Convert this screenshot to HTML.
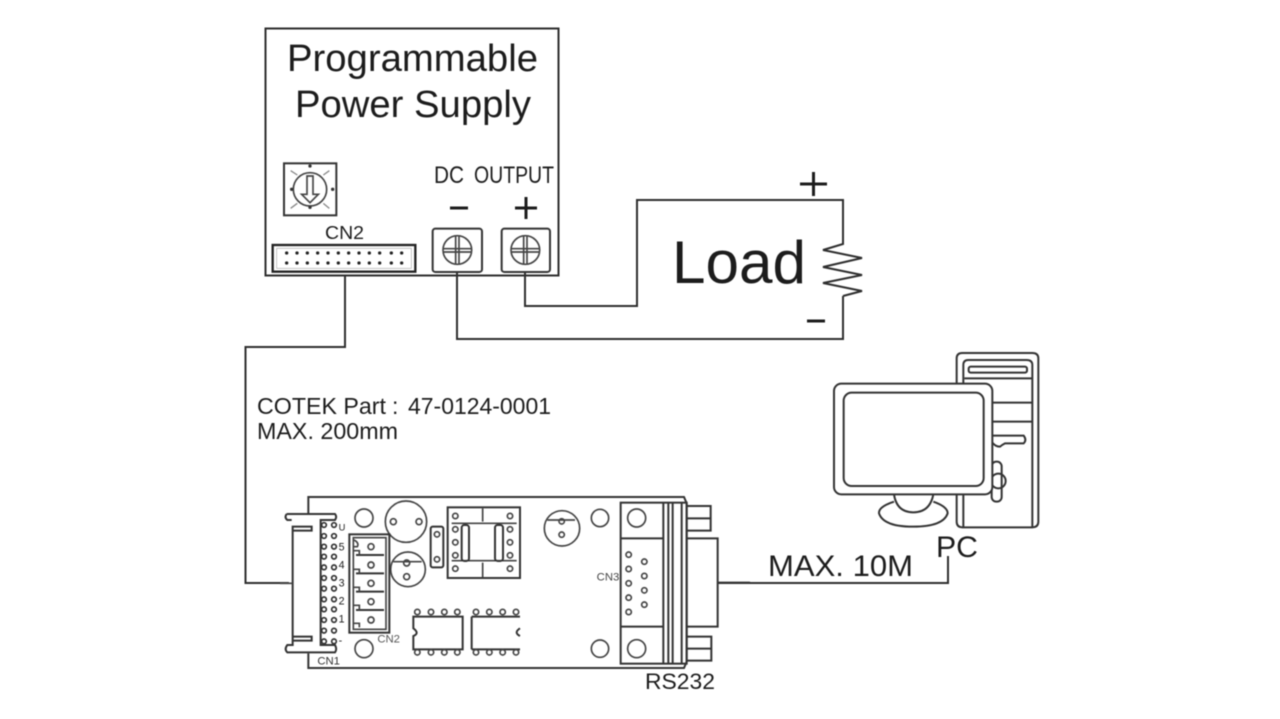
<!DOCTYPE html>
<html><head><meta charset="utf-8"><style>
html,body{margin:0;padding:0;background:#fff;width:1280px;height:719px;overflow:hidden}
svg{display:block;filter:blur(.5px)}
text{font-family:"Liberation Sans",sans-serif;fill:#1c1c1c}
.z{fill:none;stroke:#333;stroke-width:6}
.t{fill:none;stroke:#444;stroke-width:5}
</style></head><body>
<svg width="1280" height="719" viewBox="0 0 1280 719" xmlns="http://www.w3.org/2000/svg">
<g fill="none" stroke="#2e2e2e" stroke-width="2">
<rect x="265.500" y="28.500" width="293" height="247"/>
<path d="M345 276V347H245.500V583H289"/>
<path d="M457 271V339H843V296"/>
<path d="M525 271V306H637V200H843V238"/>
<path d="M843 238L843 244L823 250L862 258L823 267L862 275L823 283L862 291L843 296"/>
<path d="M718 583H948V556"/>
</g>
<text x="287" y="71" font-size="38" textLength="251" lengthAdjust="spacingAndGlyphs">Programmable</text>
<text x="295" y="117" font-size="38" textLength="236" lengthAdjust="spacingAndGlyphs">Power Supply</text>
<text x="434" y="183" font-size="24" textLength="30" lengthAdjust="spacingAndGlyphs">DC</text>
<text x="474" y="183" font-size="24" textLength="80" lengthAdjust="spacingAndGlyphs">OUTPUT</text>
<text x="325" y="239" font-size="18" textLength="39" lengthAdjust="spacingAndGlyphs">CN2</text>
<text x="672" y="283" font-size="60" textLength="134" lengthAdjust="spacingAndGlyphs">Load</text>
<text x="257" y="414" font-size="23" textLength="129" lengthAdjust="spacingAndGlyphs">COTEK Part</text>
<text x="392" y="414" font-size="23">:</text>
<text x="408" y="414" font-size="23" textLength="143" lengthAdjust="spacingAndGlyphs">47-0124-0001</text>
<text x="257" y="439" font-size="23" textLength="141" lengthAdjust="spacingAndGlyphs">MAX. 200mm</text>
<text x="768" y="576" font-size="30" textLength="145" lengthAdjust="spacingAndGlyphs">MAX. 10M</text>
<text x="936" y="557" font-size="30" textLength="42" lengthAdjust="spacingAndGlyphs">PC</text>
<text x="645" y="689" font-size="22" textLength="70" lengthAdjust="spacingAndGlyphs">RS232</text>
<g stroke="#1c1c1c" stroke-width="3" fill="none">
<path d="M450 208H468"/><path d="M515 208H537M526 197V219"/>
<path d="M800 184H827M813.500 172V196"/><path d="M807 321H825"/>
</g>
<!-- Power supply parts: zoom coords -->
<g transform="translate(260,150) scale(.33333)">
<rect class="z" x="72" y="40" width="157" height="156"/>
<circle class="t" cx="150" cy="118" r="50"/>
<path class="t" d="M141 78H159V133H175L150 158L125 133H141Z"/>
<g fill="#333"><circle cx="150" cy="48" r="5"/><circle cx="150" cy="172" r="5"/><circle cx="95" cy="118" r="5"/><circle cx="218" cy="118" r="5"/></g>
<path d="M92 62L112 75M208 62L190 75M92 175L112 160M208 175L190 160" stroke="#888" stroke-width="4"/>
<rect x="38" y="285" width="428" height="80" fill="none" stroke="#222" stroke-width="7"/>
<rect x="50" y="295" width="404" height="60" fill="none" stroke="#aaa" stroke-width="2"/>
<g fill="#222">
<circle cx="80" cy="309" r="5"/><circle cx="111" cy="309" r="5"/><circle cx="142" cy="309" r="5"/><circle cx="173" cy="309" r="5"/><circle cx="204" cy="309" r="5"/><circle cx="235" cy="309" r="5"/><circle cx="266" cy="309" r="5"/><circle cx="297" cy="309" r="5"/><circle cx="328" cy="309" r="5"/><circle cx="359" cy="309" r="5"/><circle cx="394" cy="309" r="5"/><circle cx="425" cy="309" r="5"/>
<circle cx="80" cy="339" r="5"/><circle cx="111" cy="339" r="5"/><circle cx="142" cy="339" r="5"/><circle cx="173" cy="339" r="5"/><circle cx="204" cy="339" r="5"/><circle cx="235" cy="339" r="5"/><circle cx="266" cy="339" r="5"/><circle cx="297" cy="339" r="5"/><circle cx="328" cy="339" r="5"/><circle cx="359" cy="339" r="5"/><circle cx="394" cy="339" r="5"/><circle cx="425" cy="339" r="5"/>
</g>
<rect class="z" x="518" y="236" width="148" height="130" rx="8"/>
<rect class="z" x="725" y="236" width="145" height="130" rx="8"/>
<circle class="t" cx="592" cy="300" r="43"/><path class="t" d="M549 296H635M549 306H635M587 257V343M597 257V343"/>
<circle class="t" cx="796" cy="300" r="43"/><path class="t" d="M753 296H839M753 306H839M791 257V343M801 257V343"/>
</g>
<!-- Board left -->
<g transform="translate(280,490) scale(.33333)">
<path class="z" d="M85 72V21H730M85 490V534H730"/>
<path class="z" d="M20 72H165Q172 80 165 90H122V465H165Q172 478 165 487H22Q12 478 22 465H38V110H95V122H38M40 440H95V452H38M35 90H22Q12 82 20 72"/>
<path class="t" d="M0 280H38"/>
<g fill="none" stroke="#333" stroke-width="5">
<circle cx="132" cy="105" r="7"/><circle cx="162" cy="105" r="7"/><circle cx="132" cy="138" r="7"/><circle cx="162" cy="138" r="7"/><circle cx="132" cy="170" r="7"/><circle cx="162" cy="170" r="7"/><circle cx="132" cy="200" r="7"/><circle cx="162" cy="200" r="7"/><circle cx="132" cy="232" r="7"/><circle cx="162" cy="232" r="7"/><circle cx="132" cy="264" r="7"/><circle cx="162" cy="264" r="7"/><circle cx="132" cy="296" r="7"/><circle cx="162" cy="296" r="7"/><circle cx="132" cy="328" r="7"/><circle cx="162" cy="328" r="7"/><circle cx="132" cy="358" r="7"/><circle cx="162" cy="358" r="7"/><circle cx="132" cy="390" r="7"/><circle cx="162" cy="390" r="7"/><circle cx="132" cy="422" r="7"/><circle cx="162" cy="422" r="7"/><circle cx="132" cy="454" r="7"/><circle cx="162" cy="454" r="7"/>
</g>
<g font-size="32" style="fill:#444"><text x="176" y="122" font-size="28">U</text><text x="176" y="182">5</text><text x="176" y="235">4</text><text x="176" y="290">3</text><text x="176" y="343">2</text><text x="176" y="398">1</text><text x="176" y="462">-</text></g>
<circle class="t" cx="252" cy="84" r="27"/><circle class="t" cx="252" cy="476" r="27"/>
<circle class="t" cx="378" cy="95" r="62"/><circle cx="340" cy="95" r="9" class="t"/><circle cx="417" cy="95" r="9" class="t"/>
<circle class="t" cx="384" cy="238" r="52"/><circle cx="380" cy="219" r="9" class="t"/><circle cx="380" cy="260" r="9" class="t"/><path class="t" d="M340 215H425"/>
<rect class="z" x="208" y="133" width="120" height="295"/>
<rect class="t" x="220" y="143" width="98" height="275"/>
<path class="z" d="M228 195H312M228 250H312M228 305H312M228 360H312"/>
<path class="t" d="M222 150Q238 158 232 170H222M222 182H238V195M222 238H238V250M222 292H238V305M222 346H238V360M222 400H238V412"/>
<circle class="t" cx="273" cy="170" r="9"/><circle class="t" cx="273" cy="225" r="9"/><circle class="t" cx="273" cy="280" r="9"/><circle class="t" cx="273" cy="335" r="9"/><circle class="t" cx="273" cy="390" r="9"/>
<rect class="z" x="452" y="110" width="38" height="122" rx="6"/><circle class="t" cx="471" cy="133" r="8"/><circle class="t" cx="471" cy="208" r="8"/>
<rect class="z" x="503" y="52" width="217" height="212"/>
<path class="t" d="M515 100H710M515 212H710M608 55V95M608 218V262"/>
<rect class="z" x="545" y="105" width="22" height="108" rx="8"/><rect class="z" x="645" y="105" width="24" height="108" rx="8"/>
<circle class="t" cx="526" cy="78" r="8"/><circle class="t" cx="526" cy="118" r="8"/><circle class="t" cx="526" cy="157" r="8"/><circle class="t" cx="526" cy="196" r="8"/><circle class="t" cx="526" cy="236" r="8"/><circle class="t" cx="690" cy="78" r="8"/><circle class="t" cx="690" cy="118" r="8"/><circle class="t" cx="690" cy="157" r="8"/><circle class="t" cx="690" cy="196" r="8"/><circle class="t" cx="690" cy="236" r="8"/>
<path class="z" d="M400 380H548V478H400V438Q420 430 400 415Z"/>
<path class="z" d="M575 380H720M575 478H720M575 380V478M720 415Q700 428 720 438"/>
<circle class="t" cx="412" cy="366" r="8"/><circle class="t" cx="453" cy="366" r="8"/><circle class="t" cx="493" cy="366" r="8"/><circle class="t" cx="532" cy="366" r="8"/><circle class="t" cx="412" cy="487" r="8"/><circle class="t" cx="453" cy="487" r="8"/><circle class="t" cx="493" cy="487" r="8"/><circle class="t" cx="532" cy="487" r="8"/><circle class="t" cx="588" cy="366" r="8"/><circle class="t" cx="628" cy="366" r="8"/><circle class="t" cx="668" cy="366" r="8"/><circle class="t" cx="708" cy="366" r="8"/><circle class="t" cx="588" cy="487" r="8"/><circle class="t" cx="628" cy="487" r="8"/><circle class="t" cx="668" cy="487" r="8"/><circle class="t" cx="708" cy="487" r="8"/>
<text x="292" y="458" font-size="34" style="fill:#555" textLength="68" lengthAdjust="spacingAndGlyphs">CN2</text>
<text x="112" y="524" font-size="34" style="fill:#333" textLength="68" lengthAdjust="spacingAndGlyphs">CN1</text>
</g>
<!-- Board right -->
<g transform="translate(510,490) scale(.33333)">
<path class="z" d="M0 21H522L530 40V515L522 534H0"/>
<circle class="t" cx="156" cy="115" r="53"/><circle class="t" cx="155" cy="94" r="8"/><circle class="t" cx="155" cy="134" r="8"/><path class="t" d="M112 90H195"/>
<circle class="t" cx="270" cy="84" r="26"/><circle class="t" cx="270" cy="476" r="26"/>
<rect class="z" x="332" y="38" width="198" height="483"/>
<path class="z" d="M332 145H460M332 410H460M460 38V521M475 38V521M488 38V521M515 38V521"/>
<circle class="t" cx="380" cy="84" r="27"/><circle class="t" cx="380" cy="476" r="27"/>
<path class="z" d="M530 48H602V122H530M530 85H602M530 440H604V512H530M530 476H604M530 145H623V410H530M623 278H720"/>
<circle class="t" cx="356" cy="194" r="8"/><circle class="t" cx="356" cy="237" r="8"/><circle class="t" cx="356" cy="280" r="8"/><circle class="t" cx="356" cy="323" r="8"/><circle class="t" cx="356" cy="366" r="8"/><circle class="t" cx="403" cy="215" r="8"/><circle class="t" cx="403" cy="258" r="8"/><circle class="t" cx="403" cy="301" r="8"/><circle class="t" cx="403" cy="344" r="8"/>
<text x="260" y="272" font-size="34" style="fill:#444" textLength="68" lengthAdjust="spacingAndGlyphs">CN3</text>
</g>
<!-- PC -->
<g transform="translate(825,345) scale(.33333)" fill="none" stroke="#333" stroke-width="6">
<path d="M395 115V40Q395 24 412 24H622Q640 24 640 40V530Q640 547 622 547H412Q395 547 395 530V445"/>
<path d="M415 115V60Q415 45 430 45H605Q622 45 622 60V545M415 445V545"/>
<rect x="431" y="65" width="175" height="18" rx="6"/>
<path d="M418 100H620M500 173H620M500 230H620M500 272H596Q606 285 596 295H540Q530 300 525 305Q510 305 500 290"/>
<rect x="500" y="350" width="30" height="120" rx="14"/><circle cx="520" cy="408" r="22"/>
<rect x="27" y="116" width="475" height="332" rx="22" fill="#fff"/>
<rect x="56" y="143" width="420" height="280" rx="24"/>
<path d="M207 448Q215 502 265 502Q315 502 325 448M207 470Q160 485 162 505Q175 545 265 545Q355 545 368 505Q368 485 325 470"/>
</g>
</svg>
</body></html>
